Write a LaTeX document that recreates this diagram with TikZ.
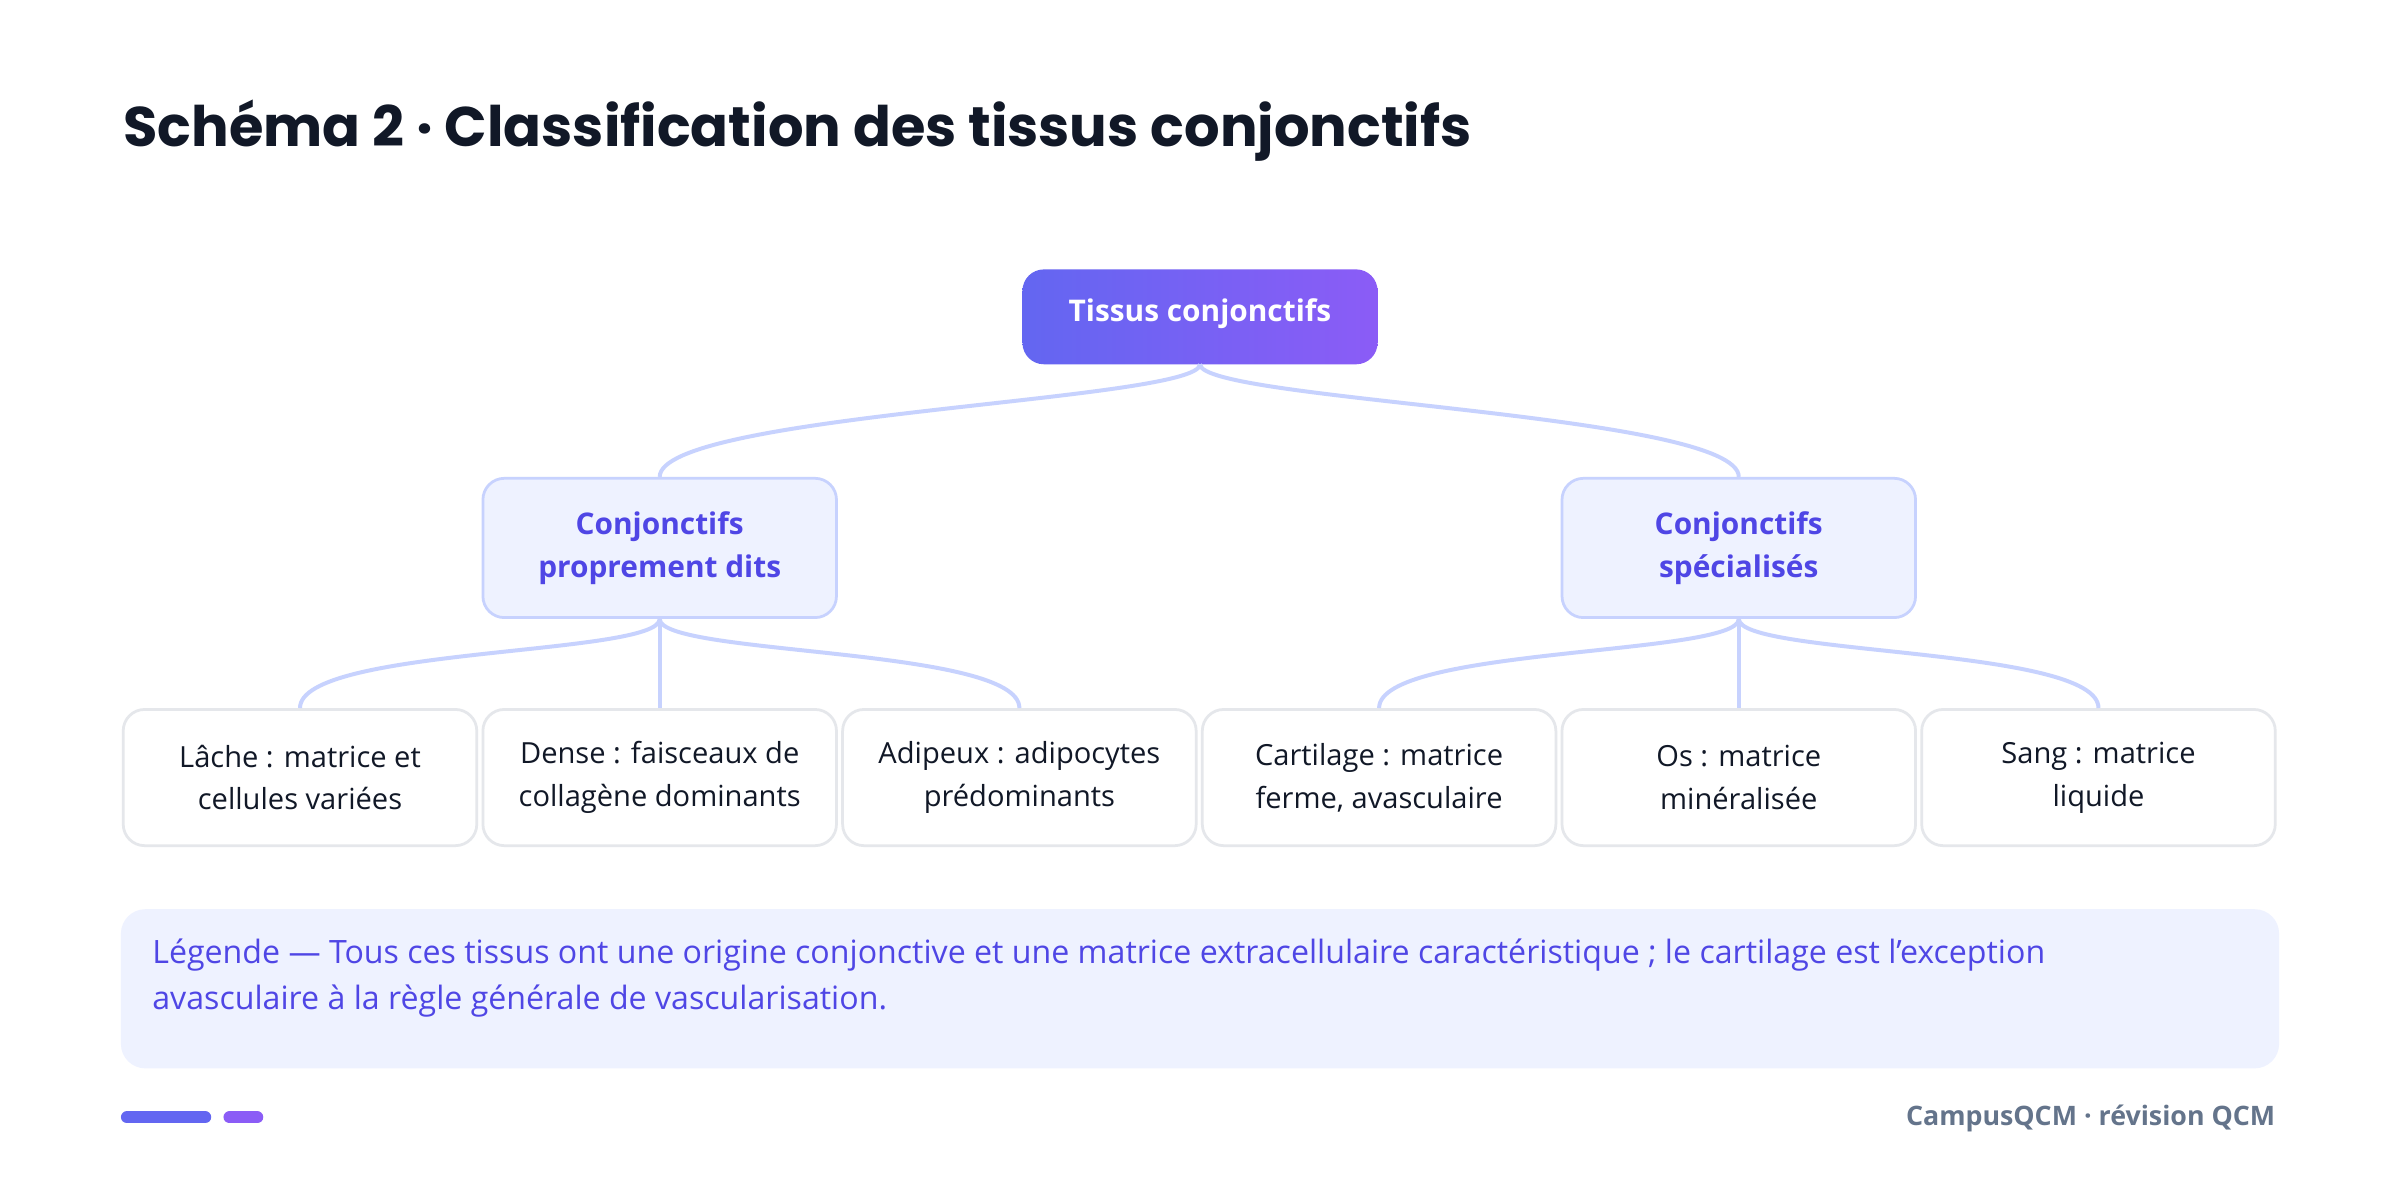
\documentclass[tikz,border=0pt]{standalone}
\usepackage{fontspec}
\setmainfont{Open Sans}
\newfontfamily\titlefont{Poppins}
\begin{document}
\definecolor{ind}{HTML}{6366F1}
\definecolor{pur}{HTML}{8B5CF6}
\definecolor{ind6}{HTML}{4F46E5}
\definecolor{lfill}{HTML}{EEF2FF}
\definecolor{lbord}{HTML}{C7D2FE}
\definecolor{gbord}{HTML}{E5E7EB}
\definecolor{dark}{HTML}{111827}
\definecolor{slate}{HTML}{64748B}
\begin{tikzpicture}[x=1pt,y=-1pt,
 leaf/.style={draw=gbord,line width=1.8pt,fill=white,rounded corners=14pt,minimum width=231pt,minimum height=89pt,align=center,text=dark,font=\fontsize{19}{28}\selectfont},
 mid/.style={draw=lbord,line width=1.8pt,fill=lfill,rounded corners=14pt,minimum width=231pt,minimum height=91pt,align=center,text=ind6,font=\fontsize{19.5}{28}\selectfont\bfseries},
 con/.style={draw=lbord,line width=2.6pt}]
\useasboundingbox (0,0) rectangle (1568,770);
\fill[white] (0,0) rectangle (1568,770);
\node[anchor=base west,text=dark,font=\titlefont\fontsize{36.5}{40}\selectfont\bfseries] (title) at (77,96) {Schéma 2 · Classification des tissus conjonctifs};
\shade[rounded corners=14pt,left color=ind,right color=pur] (668,176) rectangle (900,238);
\node[text=white,font=\fontsize{19.5}{24}\selectfont\bfseries] (root) at (784,205) {Tissus conjonctifs};
\coordinate (rb) at (784,238);
\node[mid] (m1) at (431,358) {Conjonctifs\\proprement dits};
\node[mid] (m2) at (1136,358) {Conjonctifs\\spécialisés};
\node[leaf] (l1) at (196,508) {Lâche : matrice et\\cellules variées};
\node[leaf] (l2) at (431,508) {Dense : faisceaux de\\collagène dominants};
\node[leaf] (l3) at (666,508) {Adipeux : adipocytes\\prédominants};
\node[leaf] (l4) at (901,508) {Cartilage : matrice\\ferme, avasculaire};
\node[leaf] (l5) at (1136,508) {Os : matrice\\minéralisée};
\node[leaf] (l6) at (1371,508) {Sang : matrice\\liquide};
\draw[con] (rb) .. controls (784,262) and (431,270) .. (m1.north);
\draw[con] (rb) .. controls (784,262) and (1136,270) .. (m2.north);
\foreach \m/\a/\b/\c in {m1/l1/l2/l3,m2/l4/l5/l6}{
 \draw[con] (\m.south) .. controls ([yshift=-24]\m.south) and ([yshift=40]\a.north) .. (\a.north);
 \draw[con] (\m.south) -- (\b.north);
 \draw[con] (\m.south) .. controls ([yshift=-24]\m.south) and ([yshift=40]\c.north) .. (\c.north);
}
\fill[lfill,rounded corners=16pt] (79,594) rectangle (1489,698);
\node[anchor=north west,text=ind6,align=left,font=\fontsize{21}{30}\selectfont] (leg) at (96,610) {Légende — Tous ces tissus ont une origine conjonctive et une matrice extracellulaire caractéristique ; le cartilage est l’exception\\avasculaire à la règle générale de vascularisation.};
\coordinate (b1a) at (83,730); \coordinate (b1b) at (134,730);
\coordinate (b2a) at (150,730); \coordinate (b2b) at (168,730);
\draw[ind,line width=8pt,line cap=round] (b1a) -- (b1b);
\draw[pur,line width=8pt,line cap=round] (b2a) -- (b2b);
\node[anchor=east,text=slate,font=\fontsize{17.5}{20}\selectfont\bfseries] (foot) at (1490,731) {CampusQCM · révision QCM};
\end{tikzpicture}
\end{document}
